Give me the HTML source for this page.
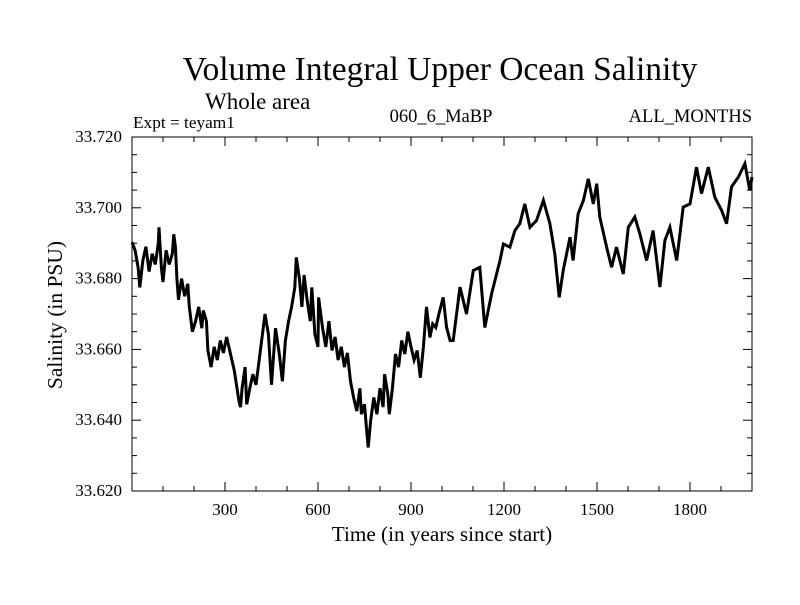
<!DOCTYPE html>
<html><head><meta charset="utf-8"><style>
body{margin:0;background:#fff}
svg text{font-family:"Liberation Serif",serif;fill:#000}
</style></head><body>
<svg id="chart" width="800" height="600">
<text x="440" y="80" font-size="33.5" text-anchor="middle">Volume Integral Upper Ocean Salinity</text>
<text x="205" y="109" font-size="23">Whole area</text>
<text x="133" y="128" font-size="17.3">Expt = teyam1</text>
<text x="441" y="122" font-size="18.5" text-anchor="middle">060_6_MaBP</text>
<text x="752" y="122" font-size="18.5" text-anchor="end">ALL_MONTHS</text>
<text x="442" y="541" font-size="21.2" text-anchor="middle">Time (in years since start)</text>
<text transform="translate(62,315) rotate(-90)" font-size="21.5" text-anchor="middle">Salinity (in PSU)</text>
<g id="axes"></g>
<path id="line" fill="none" stroke="#000" stroke-width="3" stroke-linejoin="miter"></path>
<rect x="132" y="137" width="620" height="354" fill="none" stroke="#000" stroke-width="1"></rect>
</svg>
<script>
const xTicks=[300,600,900,1200,1500,1800];
const yTicks=[33.62,33.64,33.66,33.68,33.70,33.72];
const years=[0,10,20,25,35,45,55,65,75,85,87,95,100,110,120,130,135,140,145,150,160,170,180,185,195,205,215,225,230,240,245,255,265,275,285,295,305,315,330,345,350,355,365,370,380,390,400,410,429,440,450,463,475,485,495,505,515,525,530,540,548,555,565,575,580,590,600,602,615,625,635,645,655,665,675,685,695,705,715,725,735,740,750,757,762,770,780,790,800,810,815,825,830,840,850,860,870,880,890,900,910,920,930,940,950,961,970,980,990,1004,1015,1026,1036,1058,1079,1101,1122,1138,1160,1187,1198,1219,1235,1251,1267,1284,1305,1327,1348,1364,1378,1391,1413,1423,1439,1456,1472,1488,1499,1509,1531,1547,1563,1585,1601,1622,1638,1660,1681,1703,1719,1735,1757,1778,1800,1821,1837,1859,1880,1902,1918,1934,1956,1977,1993,2000];
const salinity=[33.6903,33.688,33.683,33.6775,33.685,33.689,33.682,33.687,33.684,33.690,33.6945,33.683,33.679,33.688,33.684,33.687,33.6925,33.689,33.680,33.674,33.680,33.675,33.6785,33.672,33.665,33.668,33.672,33.666,33.671,33.668,33.6597,33.655,33.6607,33.657,33.6625,33.659,33.6635,33.6597,33.654,33.6455,33.6437,33.649,33.655,33.6445,33.649,33.653,33.650,33.6568,33.670,33.6643,33.650,33.666,33.6587,33.651,33.6625,33.668,33.672,33.6775,33.686,33.680,33.672,33.681,33.674,33.668,33.6775,33.6643,33.6607,33.6747,33.666,33.6607,33.668,33.6597,33.6635,33.657,33.6607,33.655,33.659,33.651,33.6464,33.6426,33.649,33.6417,33.6445,33.637,33.6323,33.640,33.6464,33.6417,33.649,33.6437,33.653,33.6474,33.6417,33.649,33.6587,33.655,33.6625,33.6587,33.665,33.6607,33.657,33.6597,33.652,33.6607,33.672,33.6634,33.6672,33.6662,33.670,33.6747,33.6662,33.6625,33.6625,33.6776,33.6700,33.6823,33.6832,33.6662,33.6757,33.6851,33.6898,33.6889,33.6936,33.6955,33.7011,33.6945,33.6964,33.7021,33.6955,33.6870,33.6747,33.6823,33.6917,33.6851,33.6983,33.7021,33.7082,33.7011,33.7068,33.6974,33.6889,33.6832,33.6889,33.6813,33.6945,33.6974,33.6927,33.6851,33.6936,33.6776,33.6908,33.6945,33.6851,33.7002,33.7011,33.7115,33.7040,33.7115,33.7030,33.6993,33.6955,33.7059,33.7087,33.7125,33.7049,33.7087];
const X0=132,X1=752,Y0=491,Y1=137;
const xs=v=>X0+(v-0)/(2000-0)*(X1-X0);
const ys=v=>Y0-(v-33.62)/(33.72-33.62)*(Y0-Y1);
const NS="http://www.w3.org/2000/svg";
const ax=document.getElementById('axes');
function ln(x1,y1,x2,y2,name){const l=document.createElementNS(NS,'line');l.setAttribute('x1',x1);l.setAttribute('y1',y1);l.setAttribute('x2',x2);l.setAttribute('y2',y2);l.setAttribute('stroke','#000');l.setAttribute('stroke-width','1');


ax.appendChild(l);}
function tx(x,y,s,anchor,name){const t=document.createElementNS(NS,'text');t.setAttribute('x',x);t.setAttribute('y',y);t.setAttribute('font-size','17');t.setAttribute('text-anchor',anchor);t.textContent=s;


ax.appendChild(t);}
for(let v=100;v<2000;v+=100){const x=xs(v);const major=xTicks.includes(v);const L=major?9:5;ln(x,Y0,x,Y0-L,'x-tick');ln(x,Y1,x,Y1+L,'x-tick-top');}
xTicks.forEach(v=>tx(xs(v),515,String(v),'middle','x-tick-label'));
for(let i=0;i<=20;i++){const v=33.62+i*0.005;const y=ys(v);const major=i%4===0;const L=major?9:5;ln(X0,y,X0+L,y,'y-tick');ln(X1,y,X1-L,y,'y-tick-right');}
yTicks.forEach(v=>tx(122,ys(v)+5,v.toFixed(3),'end','y-tick-label'));
let d='';years.forEach((yr,i)=>{d+=(i?'L':'M')+xs(yr).toFixed(1)+','+ys(salinity[i]).toFixed(1);});
document.getElementById('line').setAttribute('d',d);
</script>
</body></html>
